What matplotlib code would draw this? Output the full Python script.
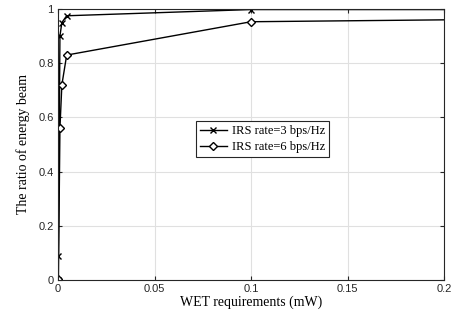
import matplotlib
matplotlib.use("Agg")
import matplotlib.pyplot as plt
from matplotlib.ticker import FuncFormatter

x1 = [0, 0.0002, 0.001, 0.002, 0.0045, 0.1, 0.2]
y1 = [0, 0.088, 0.90, 0.95, 0.975, 0.998, 0.998]
x2 = [0, 0.0002, 0.001, 0.002, 0.0045, 0.1, 0.2]
y2 = [0, 0.003, 0.56, 0.72, 0.83, 0.953, 0.96]
labels = ["IRS rate=3 bps/Hz", "IRS rate=6 bps/Hz"]
xticks = [0, 0.05, 0.1, 0.15, 0.2]
yticks = [0, 0.2, 0.4, 0.6, 0.8, 1]

fig = plt.figure(figsize=(4.55, 3.22), dpi=100)
ax = fig.add_axes([58/455, 42/322, 386/455, 271/322])
ax.plot(x1, y1, color="black", lw=1.0, marker="x", ms=4, mew=1.0,
        markevery=list(range(len(x1) - 1)), label=labels[0])
ax.plot(x2, y2, color="black", lw=1.0, marker="D", ms=4.5, mfc="white", mew=1.0,
        markevery=list(range(len(x2) - 1)), label=labels[1])

ax.set_xlim(0, 0.2)
ax.set_ylim(0, 1)
ax.set_xticks(xticks)
ax.set_yticks(yticks)
fmt = FuncFormatter(lambda v, p: ("%g" % v))
ax.xaxis.set_major_formatter(fmt)
ax.yaxis.set_major_formatter(fmt)
ax.grid(True, color="#e0e0e0", lw=0.8)
ax.set_axisbelow(True)
ax.tick_params(direction="in", length=3, labelsize=8, top=True, right=True,
               colors="#262626", pad=3)
for lab in ax.get_xticklabels() + ax.get_yticklabels():
    lab.set_family("Liberation Sans")
for s in ax.spines.values():
    s.set_color("#262626")
    s.set_linewidth(0.8)

ax.set_xlabel("WET requirements (mW)", family="Liberation Serif", fontsize=10, labelpad=1)
ax.set_ylabel("The ratio of energy beam", family="Liberation Serif", fontsize=10, labelpad=6)

leg = ax.legend(loc="center", bbox_to_anchor=(0.53, 0.52), fancybox=False,
                edgecolor="#262626", framealpha=1,
                prop={"family": "Liberation Serif", "size": 9},
                handlelength=2.2, borderpad=0.3, labelspacing=0.3, handletextpad=0.4)
leg.get_frame().set_linewidth(0.8)

fig.savefig("out.png", dpi=100)
